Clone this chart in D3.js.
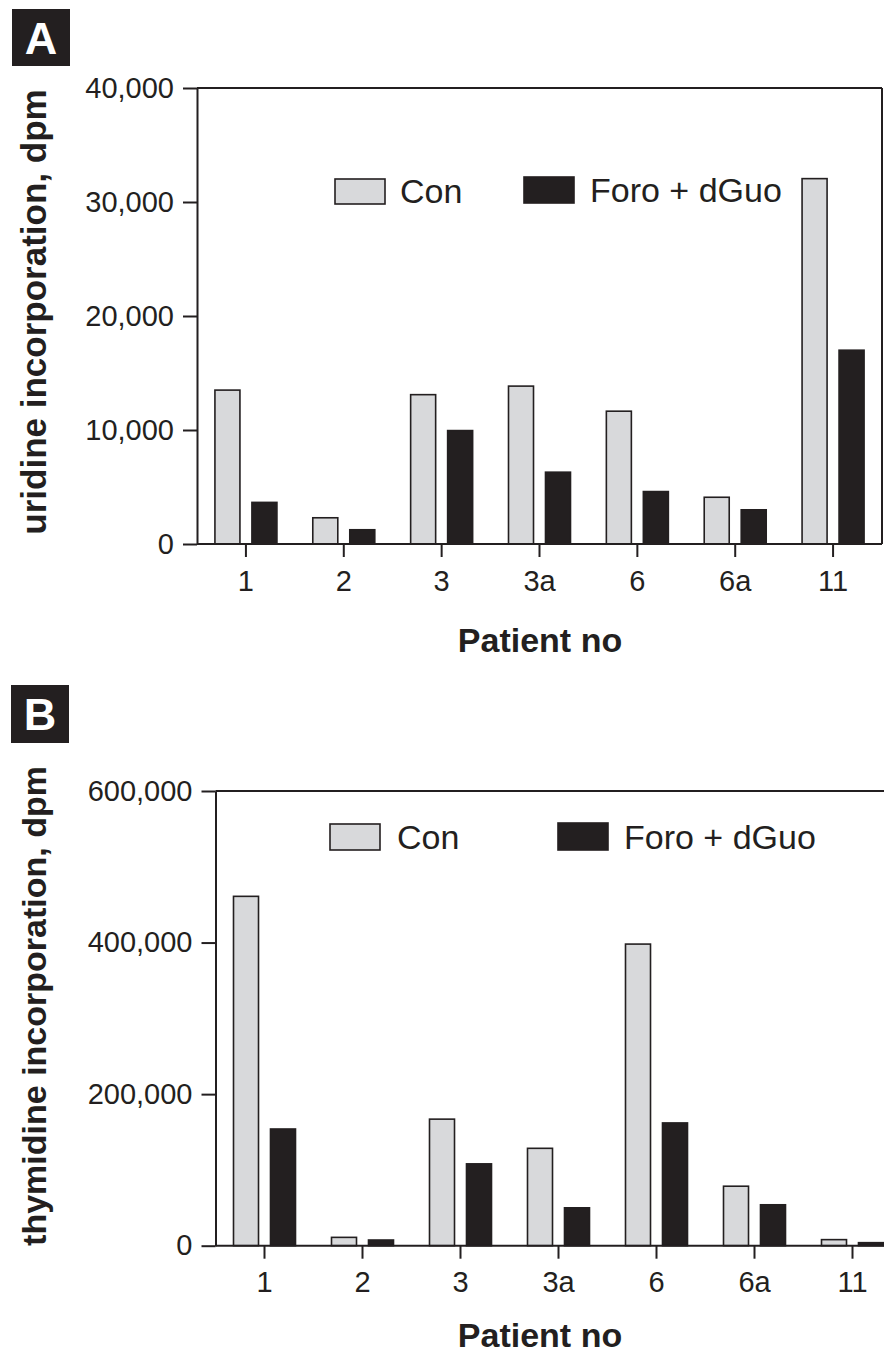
<!DOCTYPE html>
<html><head><meta charset="utf-8">
<script src="https://cdn.jsdelivr.net/npm/d3@7"></script>
<style>
body{margin:0;background:#fff}
text{font-family:"Liberation Sans",Arial,Helvetica,sans-serif;fill:#231f20}
</style>
</head><body><svg id="c" width="884" height="1355"></svg>
<script>
const patients = ["1","2","3","3a","6","6a","11"];
const seriesNames = ["Con","Foro + dGuo"];
const uridineCon = [13500, 2300, 13100, 13850, 11650, 4100, 32050];
const uridineForo = [3650, 1250, 9950, 6300, 4600, 3000, 17000];
const thymidineCon = [461000, 11000, 167000, 128500, 398000, 78500, 8000];
const thymidineForo = [154000, 7500, 108000, 50000, 162000, 54000, 4000];
const uridineTicks = [0, 10000, 20000, 30000, 40000];
const thymidineTicks = [0, 200000, 400000, 600000];
const fills = {"Con": "#d8d9db", "Foro + dGuo": "#231f20"};
const ink = "#231f20";

const svg = d3.select("#c");
svg.append("rect").attr("width",884).attr("height",1355).attr("fill","#fff");

function panel(cfg) {
  const g = svg.append("g");
  g.append("rect").attr("x",cfg.box[0]).attr("y",cfg.box[1]).attr("width",cfg.box[2]).attr("height",cfg.box[3]).attr("fill",ink);
  g.append("text").attr("x",cfg.box[0]+cfg.box[2]/2).attr("y",cfg.box[1]+cfg.box[3]/2+16)
    .attr("text-anchor","middle").style("font-size","45px").style("font-weight","bold").style("fill","#fff").text(cfg.letter);

  const x = d3.scaleBand().domain(patients).range([cfg.x0, cfg.x1]).padding(0);
  const y = d3.scaleLinear().domain([0, cfg.yMax]).range([cfg.yBottom, cfg.yTop]);
  const sub = d3.scaleBand().domain(seriesNames).range([-31, 31]).paddingInner(0.324);

  const data = patients.map((p,i)=>({p, vals:[{s:"Con", v:cfg.con[i]},{s:"Foro + dGuo", v:cfg.foro[i]}]}));
  const grp = g.selectAll("g.grp").data(data).join("g").attr("class","grp")
    .attr("transform", d=>`translate(${x(d.p)+x.bandwidth()/2},0)`);
  grp.selectAll("rect").data(d=>d.vals).join("rect")
    .attr("x", d=>sub(d.s)).attr("width", sub.bandwidth())
    .attr("y", d=>y(d.v)).attr("height", d=>cfg.yBottom - y(d.v))
    .attr("fill", d=>fills[d.s]).attr("stroke", ink).attr("stroke-width", 1.6);

  const ya = g.append("g").attr("transform",`translate(${cfg.x0},0)`)
    .call(d3.axisLeft(y).tickValues(cfg.ticks).tickFormat(d3.format(",")).tickSize(14).tickSizeOuter(0).tickPadding(9));
  ya.select(".domain").attr("stroke",ink).attr("stroke-width",2);
  ya.selectAll(".tick line").attr("stroke",ink).attr("stroke-width",2);
  ya.selectAll(".tick text").style("font-size","29px").style("font-family",null).attr("fill",ink);

  const xa = g.append("g").attr("transform",`translate(0,${cfg.yBottom})`)
    .call(d3.axisBottom(x).tickSize(13).tickSizeOuter(0).tickPadding(13));
  xa.select(".domain").remove();
  xa.selectAll(".tick line").attr("stroke",ink).attr("stroke-width",2);
  xa.selectAll(".tick text").style("font-size","29px").style("font-family",null).attr("fill",ink);

  g.append("line").attr("x1",cfg.x0).attr("x2",cfg.lineEnd).attr("y1",cfg.yBottom).attr("y2",cfg.yBottom).attr("stroke",ink).attr("stroke-width",2);
  g.append("line").attr("x1",cfg.x0).attr("x2",cfg.lineEnd).attr("y1",cfg.yTop).attr("y2",cfg.yTop).attr("stroke",ink).attr("stroke-width",2);
  if (cfg.rightBorder) {
    g.append("line").attr("x1",cfg.lineEnd).attr("x2",cfg.lineEnd).attr("y1",cfg.yTop).attr("y2",cfg.yBottom).attr("stroke",ink).attr("stroke-width",2);
  }

  g.append("text").attr("transform",`translate(${cfg.yTitleX},${cfg.yTitleY}) rotate(-90)`)
    .attr("text-anchor","middle").style("font-size",cfg.yTitleSize).style("font-weight","bold").text(cfg.yTitle);
  g.append("text").attr("x",540).attr("y",cfg.xTitleY).attr("text-anchor","middle")
    .style("font-size","34px").style("font-weight","bold").text("Patient no");

  cfg.legend.forEach((L,i)=>{
    g.append("rect").attr("x",L.sx).attr("y",L.sy).attr("width",50).attr("height",L.sh)
      .attr("fill",fills[seriesNames[i]]).attr("stroke",ink).attr("stroke-width",1.6);
    g.append("text").attr("x",L.tx).attr("y",L.ty).style("font-size","34px").text(seriesNames[i]);
  });
}

panel({
  letter:"A", box:[12,9,58,57],
  x0:197, x1:882, yTop:88, yBottom:544, yMax:40000, ticks:uridineTicks,
  con:uridineCon, foro:uridineForo, lineEnd:882, rightBorder:true,
  yTitle:"uridine incorporation, dpm", yTitleSize:"35px", yTitleX:46, yTitleY:312, xTitleY:652,
  legend:[{sx:335,sy:179,sh:25,tx:400,ty:203},{sx:524,sy:177,sh:26,tx:590,ty:202}]
});
panel({
  letter:"B", box:[11,685,58,58],
  x0:215.5, x1:901.5, yTop:791, yBottom:1245.7, yMax:600000, ticks:thymidineTicks,
  con:thymidineCon, foro:thymidineForo, lineEnd:884, rightBorder:false,
  yTitle:"thymidine incorporation, dpm", yTitleSize:"34px", yTitleX:46, yTitleY:1006, xTitleY:1347,
  legend:[{sx:330,sy:824,sh:26,tx:397,ty:849},{sx:558,sy:823,sh:27,tx:624,ty:849}]
});
</script>
</body></html>
